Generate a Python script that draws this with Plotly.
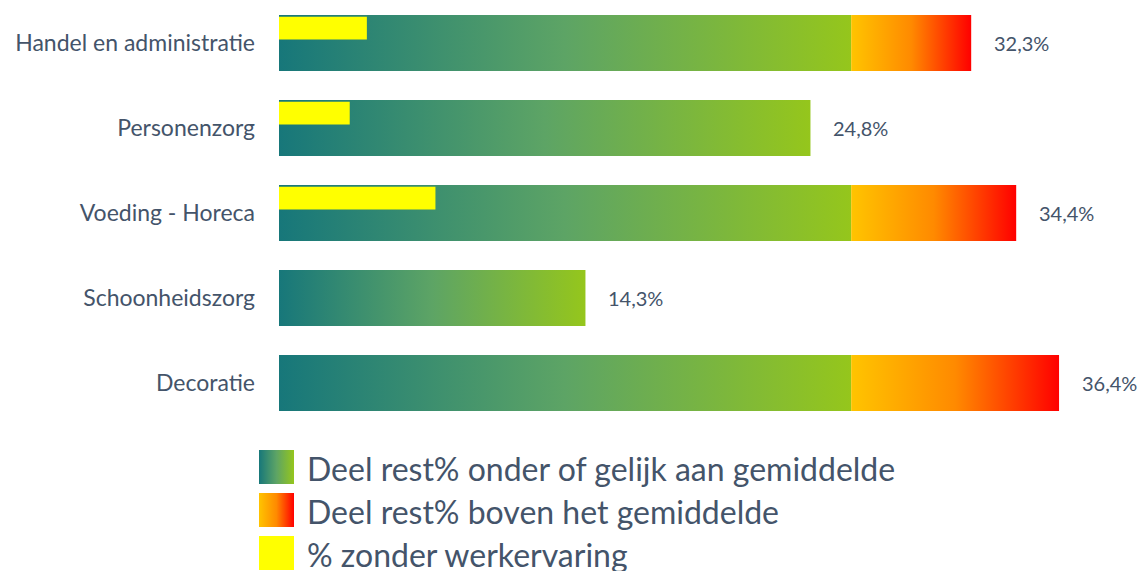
import plotly.graph_objects as go

# data
categories = ["Handel en administratie", "Personenzorg", "Voeding - Horeca",
              "Schoonheidszorg", "Decoratie"]
rest_pct = [32.3, 24.8, 34.4, 14.3, 36.4]
zonder_werkervaring = [4.1, 3.3, 7.3, 0, 0]
gemiddelde = 26.7
labels = ["32,3%", "24,8%", "34,4%", "14,3%", "36,4%"]
legend_names = ["Deel rest% onder of gelijk aan gemiddelde",
                "Deel rest% boven het gemiddelde",
                "% zonder werkervaring"]

green_scale = [[0, "#17777a"], [0.5, "#5da465"], [1, "#95c61c"]]
red_scale = [[0, "#ffc400"], [0.5, "#ff8a00"], [1, "#ff0000"]]
yellow = "#ffff00"
txt = "#44546a"
font = "Lato"

W, H = 1138, 563  # page body adds 8px margin
half = 0.33


def box(x0, x1, y0, y1, scale=None, color=None, xa="x", ya="y"):
    t = go.Scatter(x=[x0, x1, x1, x0, x0], y=[y0, y0, y1, y1, y0],
                   mode="lines", fill="toself", line=dict(width=0),
                   hoverinfo="skip", showlegend=False, xaxis=xa, yaxis=ya)
    if scale:
        t.fillgradient = dict(type="horizontal", colorscale=scale)
    else:
        t.fillcolor = color
    return t


fig = go.Figure()
for i, v in enumerate(rest_pct):
    fig.add_trace(box(0, min(v, gemiddelde), i - half, i + half, scale=green_scale))
    if v > gemiddelde:
        fig.add_trace(box(gemiddelde, v, i - half, i + half, scale=red_scale))
    if zonder_werkervaring[i] > 0:
        fig.add_trace(box(0, zonder_werkervaring[i], i - 0.31, i - 0.04, color=yellow))
    fig.add_annotation(x=v, y=i, text=labels[i], showarrow=False, xanchor="left",
                       xshift=21, font=dict(family=font, size=20, color=txt))

# legend drawn in pixel coordinates on a second pair of axes
leg_y = [459, 502, 545]
leg_fill = [green_scale, red_scale, None]
for k, name in enumerate(legend_names):
    y0, y1 = leg_y[k] - 17, leg_y[k] + 17
    if leg_fill[k]:
        fig.add_trace(box(251, 286, y0, y1, scale=leg_fill[k], xa="x2", ya="y2"))
    else:
        fig.add_trace(box(251, 286, y0, y1, color=yellow, xa="x2", ya="y2"))
    fig.add_annotation(x=297, y=leg_y[k] + 1, xref="x2", yref="y2", text=name,
                       showarrow=False, xanchor="left",
                       font=dict(family=font, size=32, color=txt))

fig.update_layout(
    width=W, height=H,
    margin=dict(l=0, r=0, t=0, b=0),
    plot_bgcolor="rgba(0,0,0,0)", paper_bgcolor="white",
    xaxis=dict(domain=[271 / W, 1], range=[0, (W - 271) / 21.43], visible=False),
    yaxis=dict(range=[(H - 35) / 85, -35 / 85], tickvals=list(range(len(categories))),
               ticktext=categories, showgrid=False, zeroline=False, showline=False,
               ticks="", ticklabelstandoff=23,
               tickfont=dict(family=font, size=23, color=txt)),
    xaxis2=dict(domain=[0, 1], range=[0, W], visible=False, anchor="y2"),
    yaxis2=dict(domain=[0, 1], range=[H, 0], visible=False, anchor="x2"),
)

fig.write_html("out.html")
